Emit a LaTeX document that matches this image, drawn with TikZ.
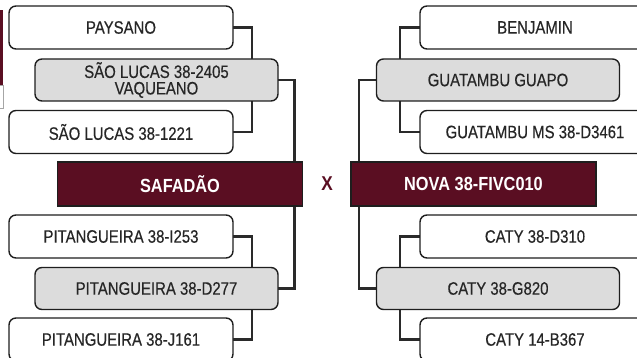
\documentclass[tikz,border=0pt]{standalone}
\usepackage{fontspec}
\setmainfont{Liberation Sans}[FakeStretch=0.83,FakeBold=0.4]
\newfontfamily\boldwide{Liberation Sans Bold}[FakeStretch=0.86]
\usetikzlibrary{backgrounds}
\definecolor{wine}{HTML}{5A0E22}
\definecolor{boxgray}{HTML}{DCDCDC}
\definecolor{edgecol}{HTML}{1E1E1E}
\definecolor{txtcol}{HTML}{262626}
\definecolor{conncol}{HTML}{2A2A2A}
\tikzset{
  basebox/.style={draw=edgecol, line width=1.4pt, rounded corners=7pt, text=txtcol,
    font=\fontsize{18}{16.5}\selectfont, align=center, inner sep=0pt, outer sep=0pt},
  wbox/.style={basebox, fill=white, minimum width=224pt, minimum height=43pt},
  wboxr/.style={basebox, fill=white, minimum width=230pt, minimum height=43pt},
  gbox/.style={basebox, fill=boxgray, minimum width=243pt, minimum height=42pt},
  mainbox/.style={draw=edgecol, line width=1.4pt, fill=wine, text=white,
    font=\boldwide\fontsize{19}{19}\selectfont, minimum width=245pt,
    minimum height=44pt, inner sep=0pt, outer sep=0pt},
  conn/.style={draw=conncol, line width=2.6pt},
  vs/.style={text=wine, font=\boldwide\fontsize{20}{20}\selectfont, inner sep=0pt}
}
\begin{document}
\begin{tikzpicture}[x=1pt,y=-1pt]
\useasboundingbox (0,0) rectangle (637,358);
\clip (0,0) rectangle (637,358);
% left-edge fragment
\fill[wine] (0,10) rectangle (3,85);
\draw[gray!70, line width=0.8pt] (0,85) -- (3,85) -- (3,108) -- (0,108);
% left side
\node[wbox] (paysano) at (121,27.5) {PAYSANO};
\node[gbox] (vaq) at (156.5,80) {SÃO LUCAS 38-2405\\VAQUEANO};
\node[wbox] (sl1221) at (121,132) {SÃO LUCAS 38-1221};
\node[mainbox] (safadao) at (180,184) {SAFADÃO};
\node[wbox] (pi253) at (121,236.5) {PITANGUEIRA 38-I253};
\node[gbox] (pd277) at (156.5,288.5) {PITANGUEIRA 38-D277};
\node[wbox] (pj161) at (121,339.5) {PITANGUEIRA 38-J161};
% center
\node[vs] (x) at (327,184) {X};
% right side
\node[wboxr] (benj) at (535,27.5) {BENJAMIN};
\node[gbox] (guapo) at (498,80) {GUATAMBU GUAPO};
\node[wboxr] (gms) at (535,132) {GUATAMBU MS 38-D3461};
\node[mainbox] (nova) at (473.5,184) {NOVA 38-FIVC010};
\node[wboxr] (cd310) at (535,236.5) {CATY 38-D310};
\node[gbox] (cg820) at (498,288.5) {CATY 38-G820};
\node[wboxr] (cb367) at (535,339.5) {CATY 14-B367};
\begin{scope}[on background layer]
  \draw[conn] (paysano.east) -- ++(19,0) |- (sl1221.east);
  \draw[conn] (vaq.east) -| ([xshift=-8pt]safadao.north east);
  \draw[conn] (pi253.east) -- ++(19,0) |- (pj161.east);
  \draw[conn] (pd277.east) -| ([xshift=-8pt]safadao.south east);
  \draw[conn] (benj.west) -- ++(-20,0) |- (gms.west);
  \draw[conn] (guapo.west) -| ([xshift=8pt]nova.north west);
  \draw[conn] (cd310.west) -- ++(-20,0) |- (cb367.west);
  \draw[conn] (cg820.west) -| ([xshift=8pt]nova.south west);
\end{scope}
\end{tikzpicture}
\end{document}
